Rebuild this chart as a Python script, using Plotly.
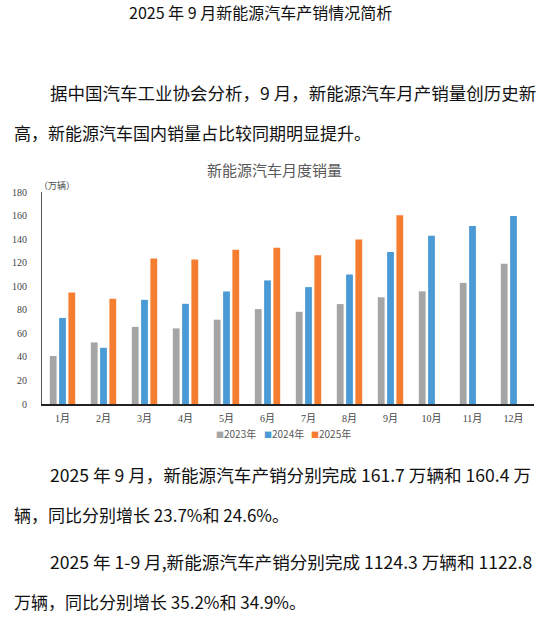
import plotly.graph_objects as go

months = ["1月", "2月", "3月", "4月", "5月", "6月", "7月", "8月", "9月", "10月", "11月", "12月"]
sales_2023 = [40.8, 52.4, 65.6, 64.3, 71.7, 80.7, 78.4, 85.0, 90.8, 95.8, 103.0, 119.3]
sales_2024 = [73.2, 47.8, 88.6, 85.2, 95.7, 105.1, 99.4, 110.2, 129.2, 143.0, 151.4, 159.8]
sales_2025 = [94.8, 89.5, 123.8, 122.9, 131.1, 132.9, 126.6, 140.0, 160.6, None, None, None]
series_names = ["2023年", "2024年", "2025年"]
y_ticks = [0, 20, 40, 60, 80, 100, 120, 140, 160, 180]
colors = ["#A5A5A5", "#4A9AD6", "#F47D30"]

page_title = "2025 年 9 月新能源汽车产销情况简析"
chart_title = "新能源汽车月度销量"
unit_label = "（万辆）"
para_lines = [
    "据中国汽车工业协会分析，9 月，新能源汽车月产销量创历史新",
    "高，新能源汽车国内销量占比较同期明显提升。",
    "2025 年 9 月，新能源汽车产销分别完成 161.7 万辆和 160.4 万",
    "辆，同比分别增长 23.7%和 24.6%。",
    "2025 年 1-9 月,新能源汽车产销分别完成 1124.3 万辆和 1122.8",
    "万辆，同比分别增长 35.2%和 34.9%。",
]

SANS = "Noto Sans CJK SC, Noto Sans, sans-serif"
SERIF = "Liberation Serif, Noto Sans CJK SC, serif"

fig = go.Figure()
for name, vals, col in zip(series_names, [sales_2023, sales_2024, sales_2025], colors):
    fig.add_trace(go.Bar(x=months, y=vals, name=name, marker=dict(color=col, line=dict(width=0))))

# plot area sits at page pixels x 39..534, y 192..404
def px_x(px):
    return (px - 39) / 495

def px_y(py):
    return (404 - py) / 212

annots = []
annots.append(dict(text=page_title, x=px_x(259), y=px_y(12), xanchor="center",
                   font=dict(family=SANS, size=16, color="#111")))
# (left x, centre y, font size) - first lines of each paragraph are justified wider
line_pos = [(45, 92, 17.5), (9, 132, 17), (45, 474, 17.6), (9, 514, 17), (45, 561, 17.6), (9, 601, 17)]
for txt, (lx, ly, fs) in zip(para_lines, line_pos):
    annots.append(dict(text=txt, x=px_x(lx), y=px_y(ly), xanchor="left",
                       font=dict(family=SANS, size=fs, color="#111")))
annots.append(dict(text=chart_title, x=px_x(273), y=px_y(170), xanchor="center",
                   font=dict(family=SANS, size=15, color="#595959")))
annots.append(dict(text=unit_label, x=px_x(34), y=px_y(186), xanchor="left",
                   font=dict(family=SANS, size=9, color="#444")))
for name, col, lx in zip(series_names, colors, [212, 260, 308]):
    annots.append(dict(
        text='<span style="color:%s;font-size:8px">■</span>%s' % (col, name),
        x=px_x(lx), y=px_y(433), xanchor="left",
        font=dict(family=SANS, size=10, color="#595959")))
for a in annots:
    a.update(xref="paper", yref="paper", yanchor="middle", showarrow=False)

fig.update_layout(
    width=550, height=619,
    margin=dict(l=39, r=16, t=192, b=215),
    paper_bgcolor="white", plot_bgcolor="white",
    barmode="group", bargap=0.32, bargroupgap=0.27,
    showlegend=False,
    annotations=annots,
    xaxis=dict(showline=True, linecolor="#222", linewidth=1.5, showgrid=False,
               ticks="", tickfont=dict(family=SERIF, size=10, color="#444"),
               ticklabelstandoff=4),
    yaxis=dict(range=[0, 180.3], tickmode="array", tickvals=y_ticks,
               showline=True, linecolor="#555", linewidth=1,
               showgrid=False, zeroline=False, ticks="",
               tickfont=dict(family=SERIF, size=10, color="#444"),
               ticklabelstandoff=12),
)

# no modebar, and drop the default 8px body margin so the figure fills the window
fig.write_html("out.html", config={"displayModeBar": False},
               post_script="document.body.style.margin='0';")
